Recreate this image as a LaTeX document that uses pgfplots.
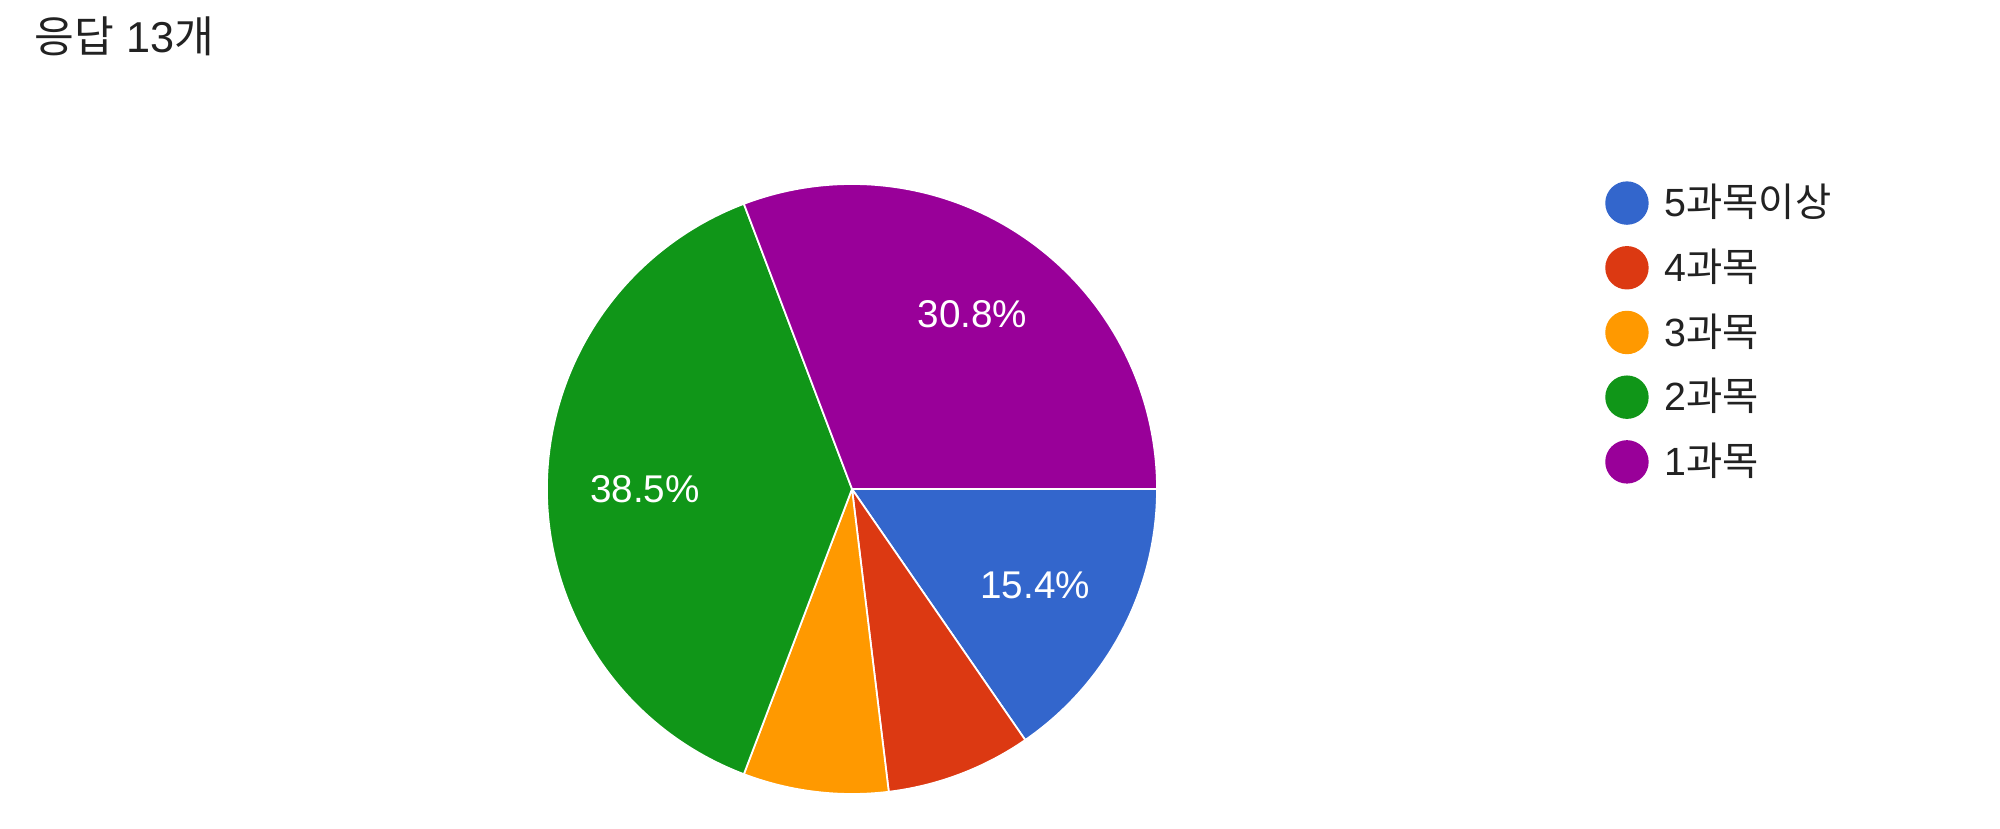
\documentclass[border=0pt]{standalone}
\usepackage{pgfplots}
\pgfplotsset{compat=1.18}
\usepackage{fontspec}
\setmainfont{Liberation Sans}
\newfontfamily\cjk{Noto Sans CJK KR}
\definecolor{gblue}{HTML}{3366CC}
\definecolor{gred}{HTML}{DC3912}
\definecolor{gorange}{HTML}{FF9900}
\definecolor{ggreen}{HTML}{109618}
\definecolor{gpurple}{HTML}{990099}
\definecolor{txt}{HTML}{222222}

% answer counts (13 in all), clockwise from 3 o'clock
\def\nA{2}% 5과목이상
\def\nB{1}% 4과목
\def\nC{1}% 3과목
\def\nD{5}% 2과목
\def\nE{4}% 1과목
\pgfmathsetmacro\ntot{\nA+\nB+\nC+\nD+\nE}
\pgfmathsetmacro\aA{-360*\nA/\ntot}
\pgfmathsetmacro\aB{\aA-360*\nB/\ntot}
\pgfmathsetmacro\aC{\aB-360*\nC/\ntot}
\pgfmathsetmacro\aD{\aC-360*\nD/\ntot}
\pgfmathsetmacro\aE{\aD-360*\nE/\ntot}

\begin{document}
\begin{tikzpicture}
\begin{axis}[
  width=20cm, height=8.28cm, scale only axis,
  xmin=0, xmax=2000, ymin=0, ymax=828,
  enlargelimits=false, hide axis, clip=false,
  legend style={at={(axis cs:1594,665)}, anchor=north west, draw=none, fill=none,
    font=\fontsize{11.2}{12}\selectfont\color{txt},
    nodes={inner sep=0pt, minimum height=0.647cm, anchor=west},
    row sep=0pt, column sep=0.16cm},
  legend cell align=left,
  legend image code/.code={\fill[#1] (0.21cm,0cm) circle (0.21cm);},
]
\addplot[draw=none, forget plot] coordinates {(0,0) (2000,828)};

\def\cx{852}\def\cy{339}\def\R{3.05cm}
\fill[gblue, draw=white, line width=0.5pt] (axis cs:\cx,\cy) -- ++(0:\R) arc[start angle=0, end angle=\aA, radius=\R] -- cycle;
\fill[gred, draw=white, line width=0.5pt] (axis cs:\cx,\cy) -- ++(\aA:\R) arc[start angle=\aA, end angle=\aB, radius=\R] -- cycle;
\fill[gorange, draw=white, line width=0.5pt] (axis cs:\cx,\cy) -- ++(\aB:\R) arc[start angle=\aB, end angle=\aC, radius=\R] -- cycle;
\fill[ggreen, draw=white, line width=0.5pt] (axis cs:\cx,\cy) -- ++(\aC:\R) arc[start angle=\aC, end angle=\aD, radius=\R] -- cycle;
\fill[gpurple, draw=white, line width=0.5pt] (axis cs:\cx,\cy) -- ++(\aD:\R) arc[start angle=\aD, end angle=\aE, radius=\R] -- cycle;

\pgfmathsetmacro\mA{\aA/2}
\pgfmathsetmacro\mD{(\aC+\aD)/2}
\pgfmathsetmacro\mE{(\aD+\aE)/2}
\path (axis cs:\cx,\cy) ++(\mA:2.07cm) node[white, font=\fontsize{11}{12}\selectfont] {15.4\%};
\path (axis cs:\cx,\cy) ++(\mD:2.07cm) node[white, font=\fontsize{11}{12}\selectfont] {38.5\%};
\path (axis cs:\cx,\cy) ++(\mE:2.12cm) node[white, font=\fontsize{11}{12}\selectfont] {30.8\%};

\node[anchor=base west, inner sep=0pt, txt, font=\fontsize{12.3}{13}\selectfont] at (axis cs:34,775) {{\cjk 응답} 13{\cjk 개}};

\addlegendimage{gblue}\addlegendentry{5{\cjk 과목이상}}
\addlegendimage{gred}\addlegendentry{4{\cjk 과목}}
\addlegendimage{gorange}\addlegendentry{3{\cjk 과목}}
\addlegendimage{ggreen}\addlegendentry{2{\cjk 과목}}
\addlegendimage{gpurple}\addlegendentry{1{\cjk 과목}}
\end{axis}
\end{tikzpicture}
\end{document}
